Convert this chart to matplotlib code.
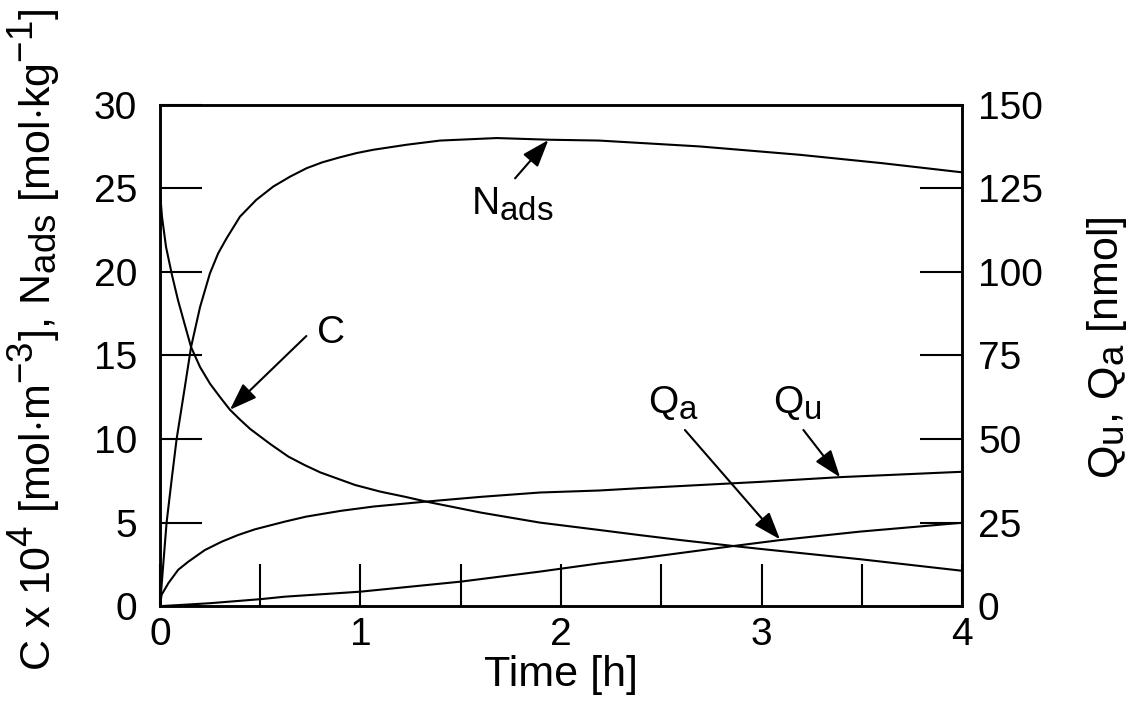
import numpy as np
import matplotlib
matplotlib.use("Agg")
import matplotlib.pyplot as plt
import matplotlib._mathtext as mathtext_core

plt.rcParams['font.family'] = ['Liberation Sans', 'DejaVu Sans']
plt.rcParams['mathtext.fontset'] = 'custom'
plt.rcParams['mathtext.rm'] = 'Liberation Sans'
plt.rcParams['mathtext.it'] = 'Liberation Sans'
# sub/superscripts nearly full size
mathtext_core.SHRINK_FACTOR = 0.85

# concentration C x 10^4 [mol/m3]
t_c = [0, 0.01, 0.03, 0.06, 0.09, 0.12, 0.155, 0.2, 0.25, 0.3, 0.349, 0.4, 0.45, 0.55,
       0.64, 0.72, 0.8, 0.973, 1.1, 1.22, 1.33, 1.6, 1.895, 2.19, 2.394, 2.6, 2.86, 3.0,
       3.5, 4.0]
c_val = [24.8, 23.3, 21.5, 19.8, 18.3, 17.0, 15.5, 14.3, 13.3, 12.5, 11.75, 11.15, 10.6, 9.7,
         8.95, 8.45, 8.0, 7.25, 6.85, 6.55, 6.25, 5.6, 5.0, 4.56, 4.25, 3.95, 3.6, 3.42,
         2.8, 2.12]

# adsorbed amount N_ads [mol/kg]
t_n = [0, 0.015, 0.033, 0.058, 0.083, 0.12, 0.155, 0.2, 0.249, 0.29, 0.332, 0.399, 0.48,
       0.565, 0.65, 0.732, 0.81, 0.898, 0.98, 1.064, 1.23, 1.397, 1.68, 1.94, 2.19, 2.69,
       3.19, 3.6, 4.0]
n_ads = [0, 2.3, 5.0, 7.55, 10.0, 12.8, 15.5, 17.9, 19.9, 21.1, 22.0, 23.3, 24.3,
         25.1, 25.7, 26.2, 26.55, 26.85, 27.1, 27.3, 27.6, 27.85, 28.0, 27.9, 27.85, 27.5,
         27.0, 26.5, 25.95]

# Q_u [nmol]
t_qu = [0, 0.008, 0.042, 0.091, 0.141, 0.224, 0.308, 0.39, 0.474, 0.623, 0.73,
        0.9, 1.064, 1.33, 1.6, 1.895, 2.19, 2.394, 3.0, 3.392, 4.0]
q_u = [0, 3.4, 6.9, 10.9, 13.3, 16.8, 19.3, 21.3, 23.0, 25.3, 26.8,
       28.5, 29.8, 31.3, 32.7, 34.0, 34.6, 35.3, 37.2, 38.6, 40.2]

# Q_a [nmol]
t_qa = [0, 0.25, 0.5, 0.623, 1.0, 1.5, 1.895, 2.19, 2.394, 2.86, 3.09, 3.49, 4.0]
q_a = [0, 0.9, 2.1, 2.85, 4.35, 7.35, 10.35, 12.8, 14.3, 18.0, 19.75, 22.3, 24.95]

fs = 28
fs_label = 31
lw = 1.5

fig = plt.figure(figsize=(11.37, 7.28), dpi=100)
ax = fig.add_axes([0.1407, 0.1673, 0.7054, 0.689])
ax2 = ax.twinx()

ax.plot(t_c, c_val, color='black', lw=lw)
ax.plot(t_n, n_ads, color='black', lw=lw)
ax2.plot(t_qu, q_u, color='black', lw=lw)
ax2.plot(t_qa, q_a, color='black', lw=lw)

ax.set_xlim(0, 4)
ax.set_ylim(0, 30)
ax2.set_ylim(0, 150)

ax.set_xticks([0, 1, 2, 3, 4])
ax.set_xticks([0.5, 1.5, 2.5, 3.5], minor=True)
ax.set_yticks(np.arange(0, 31, 5))
ax2.set_yticks(np.arange(0, 151, 25))

ax.tick_params(axis='x', which='both', direction='in', length=30, width=1.5,
               labelsize=fs, pad=8, top=False)
ax.tick_params(axis='y', direction='in', length=30, width=1.5, labelsize=fs,
               pad=16.5, right=False)
ax2.tick_params(axis='y', direction='in', length=30, width=1.5, labelsize=fs,
                pad=11.5)

for a in (ax, ax2):
    for s in a.spines.values():
        s.set_linewidth(1.8)

ax.set_xlabel('Time [h]', fontsize=fs_label, labelpad=1)
ax.set_ylabel(r'C x 10$^\mathregular{4}$ [mol$\cdot$m$^\mathregular{-3}$], '
              r'N$_\mathregular{ads}$ [mol$\cdot$kg$^\mathregular{-1}$]', fontsize=fs_label)
ax.yaxis.set_label_coords(-0.121, 0.531)
ax2.set_ylabel(r'Q$_\mathregular{u}$, Q$_\mathregular{a}$ [nmol]', fontsize=fs_label)
ax2.yaxis.set_label_coords(1.153, 0.515)

# curve labels with arrows
arrow = dict(arrowstyle='-|>,head_length=1.4,head_width=0.5', color='black',
             lw=1.5, shrinkA=0, shrinkB=0, mutation_scale=12)

ax.annotate('', xy=(0.349, 11.75), xytext=(0.73, 16.16), arrowprops=arrow)
ax.text(0.783, 15.74, 'C', fontsize=fs, ha='left', va='baseline')

ax.annotate('', xy=(1.937, 27.88), xytext=(1.771, 25.59), arrowprops=arrow)
ax.text(1.551, 23.4, r'N$_\mathregular{ads}$', fontsize=fs, ha='left', va='baseline')

ax.annotate('', xy=(3.092, 4.0), xytext=(2.618, 10.54), arrowprops=arrow)
ax.text(2.434, 11.55, r'Q$_\mathregular{a}$', fontsize=fs, ha='left', va='baseline')

ax.annotate('', xy=(3.392, 7.71), xytext=(3.209, 10.54), arrowprops=arrow)
ax.text(3.059, 11.55, r'Q$_\mathregular{u}$', fontsize=fs, ha='left', va='baseline')

plt.savefig('out.png', dpi=100)
